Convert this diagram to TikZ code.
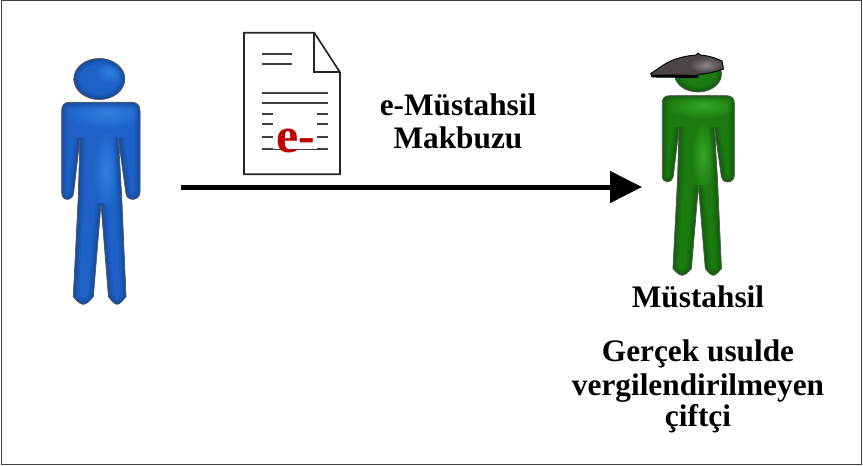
\documentclass[tikz,border=0pt]{standalone}
\usepackage{fontspec}
\setmainfont{Liberation Serif}
\usetikzlibrary{arrows.meta}
\definecolor{bluebase}{HTML}{1E62C8}
\definecolor{bluedark}{HTML}{0B2F70}
\definecolor{bluelight}{HTML}{2F7EDD}
\definecolor{greenbase}{HTML}{1B7A10}
\definecolor{greendark}{HTML}{083F05}
\definecolor{greenlight}{HTML}{35A526}
\definecolor{capbase}{HTML}{4A4444}
\definecolor{caplight}{HTML}{8C8484}
\definecolor{ered}{HTML}{C00000}
\tikzset{
  frame/.style={draw=black!75,line width=1pt,fill=white},
  label text/.style={font=\bfseries\fontsize{31.3}{34}\selectfont,text=black,inner sep=0pt,anchor=base},
  docline/.style={draw=black!75,line width=1.7pt},
  docsheet/.style={draw=black!85,line width=1.7pt,line join=miter},
  main arrow/.style={line width=5pt,-{Triangle[length=32pt,width=31pt]},shorten >=0pt},
  outline/.style={draw=black!65,line width=.8pt}
}
\newcommand{\bodypath}{
  (70,102.3) -- (131,102.3) .. controls (137,102.3) and (140,105) .. (140,111)
  -- (140,192) .. controls (140,197) and (136,199.3) .. (133,199.3)
  .. controls (129,199.3) and (126,197) .. (126,193.5)
  -- (118.3,138) -- (121.7,197) -- (126,296.7)
  .. controls (123,300) and (120,304.3) .. (117.3,304.3)
  .. controls (114,304.3) and (111,300) .. (108.5,296.7)
  -- (101,203.3) -- (93.3,296.7)
  .. controls (90.5,300) and (87,304.3) .. (83.3,304.3)
  .. controls (80,304.3) and (76,300) .. (73.3,296.7)
  -- (78.3,197) -- (80,138) -- (73.5,193.5)
  .. controls (73,197) and (70,199.3) .. (67.3,199.3)
  .. controls (64,199.3) and (61.7,197) .. (61.7,192)
  -- (61.7,111) .. controls (61.7,105) and (64,102.3) .. (70,102.3) -- cycle}
\newcommand{\bevel}[2]{% path macro, dark colour
  \foreach \w in {11,7,4,2}{\draw[#2,opacity=.13,line width=\w pt] #1;}}
\newcommand{\bodyfig}[3]{% base, dark, light
  \begin{scope}
    \clip \bodypath;
    \fill[#1] (50,95) rectangle (150,310);
    \shade[inner color=#3,outer color=#1] (106,113) ellipse (40 and 16);
    \shade[inner color=#3,outer color=#1] (106,170) ellipse (13 and 40);
    \bevel{\bodypath}{#2}
  \end{scope}
  \draw[outline] \bodypath;}
\begin{document}
\begin{tikzpicture}[x=1pt,y=-1pt]
\useasboundingbox (0,0) rectangle (863,466);
\path[frame] (1,0.5) rectangle (861.5,464.5);

% blue person
\coordinate (bluep) at (100,190);
\newcommand{\headA}{(99.3,79) ellipse (25.5 and 20.5)}
\begin{scope}
  \clip \headA;
  \fill[bluebase] (70,55) rectangle (130,105);
  \shade[inner color=bluelight,outer color=bluebase] (110,72) ellipse (16 and 11);
  \bevel{\headA}{bluedark}
\end{scope}
\draw[outline] \headA;
\bodyfig{bluebase}{bluedark}{bluelight}

% green person
\coordinate (greenp) at (698,187);
\begin{scope}[shift={(698.3,95.7)},xscale=.92,yscale=.889,shift={(-100.85,-102.3)}]
  \bodyfig{greenbase}{greendark}{greenlight}
\end{scope}
\newcommand{\headB}{(698,74) ellipse (23.5 and 18)}
\begin{scope}
  \clip \headB;
  \fill[greenbase] (670,50) rectangle (725,95);
  \bevel{\headB}{greendark}
\end{scope}
\draw[outline] \headB;

% cap
\newcommand{\cappath}{(650.7,73.5) .. controls (658,69) and (665,63) .. (673,60)
  .. controls (681,57) and (689,55.5) .. (696,55) -- (698,53) -- (700.5,55)
  .. controls (708,55.5) and (716,58) .. (722,61) -- (723.5,69)
  .. controls (715,72) and (706,74) .. (698,74.5) -- (697.5,77.5)
  -- (652,77) -- cycle}
\begin{scope}
  \clip \cappath;
  \fill[capbase] (645,50) rectangle (730,80);
  \shade[inner color=caplight,outer color=capbase] (706,65) ellipse (17 and 8);
\end{scope}
\draw[black,line width=.9pt] \cappath;
\draw[black,line width=2.4pt] (652,75.7) -- (697.5,76);

% document
\draw[docsheet,fill=white] (244,32.7) -- (314.3,32.7) -- (340,72.3) -- (340,174.3) -- (244,174.3) -- cycle;
\draw[docsheet] (314.3,32.7) -- (314.3,72.3) -- (340,72.3);
\foreach \y in {53.7,63.7}{\draw[docline] (262,\y) -- (292,\y);}
\foreach \y in {92.7,103.3}{\draw[docline] (262,\y) -- (328,\y);}
\foreach \y in {114.3,124.3,137}{\draw[docline] (262,\y) -- (273,\y) (317,\y) -- (328,\y);}
\draw[docline,line width=.8pt] (262,149) -- (328,149);
\draw[docline] (262,149) -- (273,149) (317,149) -- (328,149);
\node[text=ered,font=\bfseries\fontsize{50}{50}\selectfont,inner sep=0pt,anchor=base] (emark) at (295.5,152) {e-};

% arrow
\coordinate (arrowstart) at (181,187);
\coordinate (arrowend) at (642,187);
\draw[main arrow] (arrowstart) -- (arrowend);

% labels
\node[label text] (lbla) at (458,115) {e-Müstahsil};
\node[label text] (lblb) at (458,148) {Makbuzu};
\node[label text] (lblc) at (698,307.7) {Müstahsil};
\node[label text] (lbld) at (698,361.7) {Gerçek usulde};
\node[label text] (lble) at (698,395.7) {vergilendirilmeyen};
\node[label text] (lblf) at (698,426.7) {çiftçi};
\end{tikzpicture}
\end{document}
